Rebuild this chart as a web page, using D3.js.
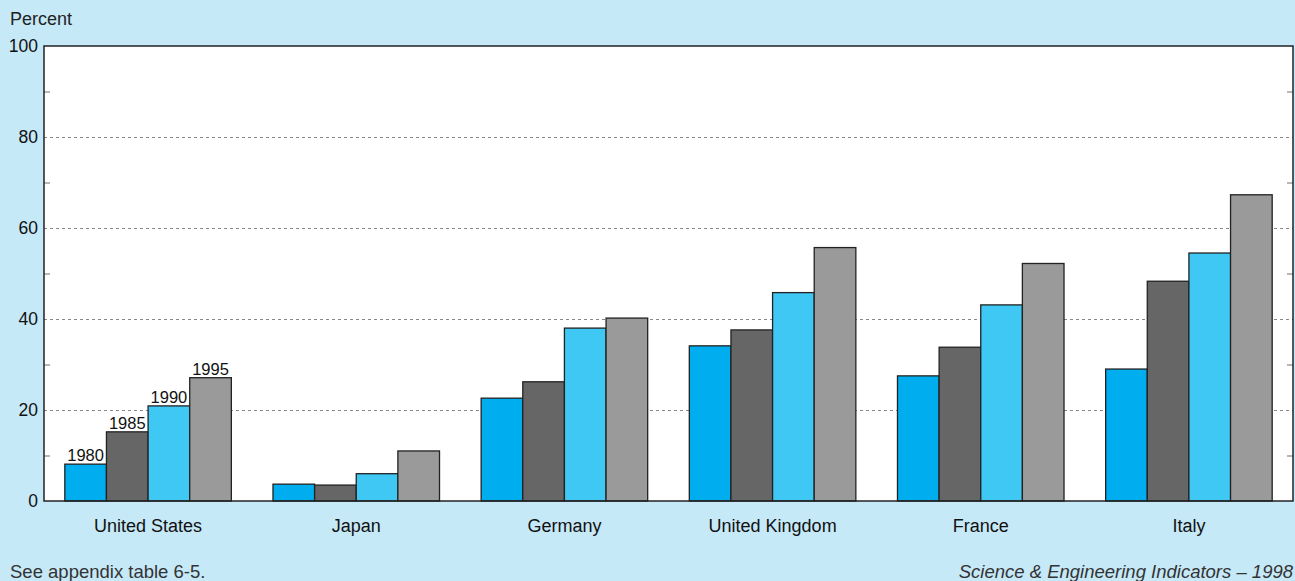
<!DOCTYPE html>
<html><head><meta charset="utf-8">
<script src="https://cdn.jsdelivr.net/npm/d3@7"></script>
<style>
html,body{margin:0;padding:0;background:#c6e9f8;}
svg{display:block;font-family:"Liberation Sans",Arial,Helvetica,sans-serif;}
</style></head>
<body><svg id="chart" width="1295" height="581"></svg>
<script>
const countries = ["United States","Japan","Germany","United Kingdom","France","Italy"];
const years = ["1980","1985","1990","1995"];
const v1980 = [8.1, 3.7, 22.6, 34.1, 27.5, 29.0];
const v1985 = [15.2, 3.5, 26.2, 37.6, 33.8, 48.3];
const v1990 = [20.9, 6.0, 38.0, 45.8, 43.1, 54.5];
const v1995 = [27.1, 11.0, 40.2, 55.7, 52.2, 67.3];
const yTicks = [0,20,40,60,80,100];
const minorTicks = [10,30,50,70,90];
const colors = ["#00adee","#666666","#40c8f4","#9a9a9a"];

const series = [v1980, v1985, v1990, v1995];
const svg = d3.select("#chart");
const m = {l:44, r:2, t:46, b:80};
const W = 1295, H = 581;
const pw = W - m.l - m.r, ph = H - m.t - m.b;
const FONT = "Liberation Sans, Arial, sans-serif";

svg.append("rect").attr("width",W).attr("height",H).attr("fill","#c6e9f8");
const g = svg.append("g").attr("transform",`translate(${m.l},${m.t})`);
g.append("rect").attr("width",pw).attr("height",ph).attr("fill","#fff");

const x0 = d3.scaleBand().domain(countries).range([0,pw]).paddingInner(0.2).paddingOuter(0.1);
const x1 = d3.scaleBand().domain(years).range([0,x0.bandwidth()]);
const y = d3.scaleLinear().domain([0,100]).range([ph,0]);

// gridlines
g.selectAll(".grid").data(yTicks.filter(d=>d>0&&d<100)).join("line")
  .attr("x1",0).attr("x2",pw).attr("y1",d=>y(d)+0.5).attr("y2",d=>y(d)+0.5)
  .attr("stroke","#888").attr("stroke-width",1).attr("stroke-dasharray","3,3");

// minor ticks left & right
g.selectAll(".mtl").data(minorTicks).join("line")
  .attr("x1",0).attr("x2",6).attr("y1",d=>y(d)+0.5).attr("y2",d=>y(d)+0.5)
  .attr("stroke","#888").attr("stroke-width",1.2);
g.selectAll(".mtr").data(minorTicks).join("line")
  .attr("x1",pw-6).attr("x2",pw).attr("y1",d=>y(d)+0.5).attr("y2",d=>y(d)+0.5)
  .attr("stroke","#888").attr("stroke-width",1.2);

// bars
const groups = g.selectAll(".grp").data(countries).join("g")
  .attr("transform",d=>`translate(${x0(d)},0)`);
groups.selectAll("rect").data((d,i)=>years.map((yr,j)=>({yr, j, v:series[j][i], ci:i}))).join("rect")
  .attr("x",d=>x1(d.yr)).attr("width",x1.bandwidth())
  .attr("y",d=>y(d.v)).attr("height",d=>y(0)-y(d.v))
  .attr("fill",d=>colors[d.j]).attr("stroke","#222").attr("stroke-width",1.3);

// year labels for United States
g.selectAll(".ylab").data(years).join("text")
  .attr("x",d=>x0(countries[0])+x1(d)+x1.bandwidth()/2)
  .attr("y",(d,j)=>y(series[j][0])-3)
  .attr("text-anchor","middle").attr("font-size",16.5).attr("fill","#111").text(d=>d);

// frame
g.append("rect").attr("width",pw).attr("height",ph).attr("fill","none")
  .attr("stroke","#222").attr("stroke-width",1.5);

// y axis labels
const ya = d3.axisLeft(y).tickValues(yTicks).tickSize(0).tickPadding(6);
const yg = g.append("g").call(ya);
yg.select(".domain").remove();
yg.selectAll("text").attr("font-size",17.5).attr("fill","#111").attr("font-family",FONT);

// x axis labels
const xa = d3.axisBottom(x0).tickSize(0).tickPadding(18);
const xg = g.append("g").attr("transform",`translate(0,${ph})`).call(xa);
xg.select(".domain").remove();
xg.selectAll("text").attr("font-size",18).attr("fill","#111").attr("font-family",FONT);

svg.append("text").attr("x",10).attr("y",25).attr("font-size",18).attr("fill","#222").text("Percent");
svg.append("text").attr("x",10).attr("y",578).attr("font-size",18.5).attr("fill","#333").text("See appendix table 6-5.");
svg.append("text").attr("x",1293).attr("y",578).attr("text-anchor","end").attr("font-size",18.5)
  .attr("font-style","italic").attr("fill","#333").text("Science & Engineering Indicators – 1998");
</script></body></html>
